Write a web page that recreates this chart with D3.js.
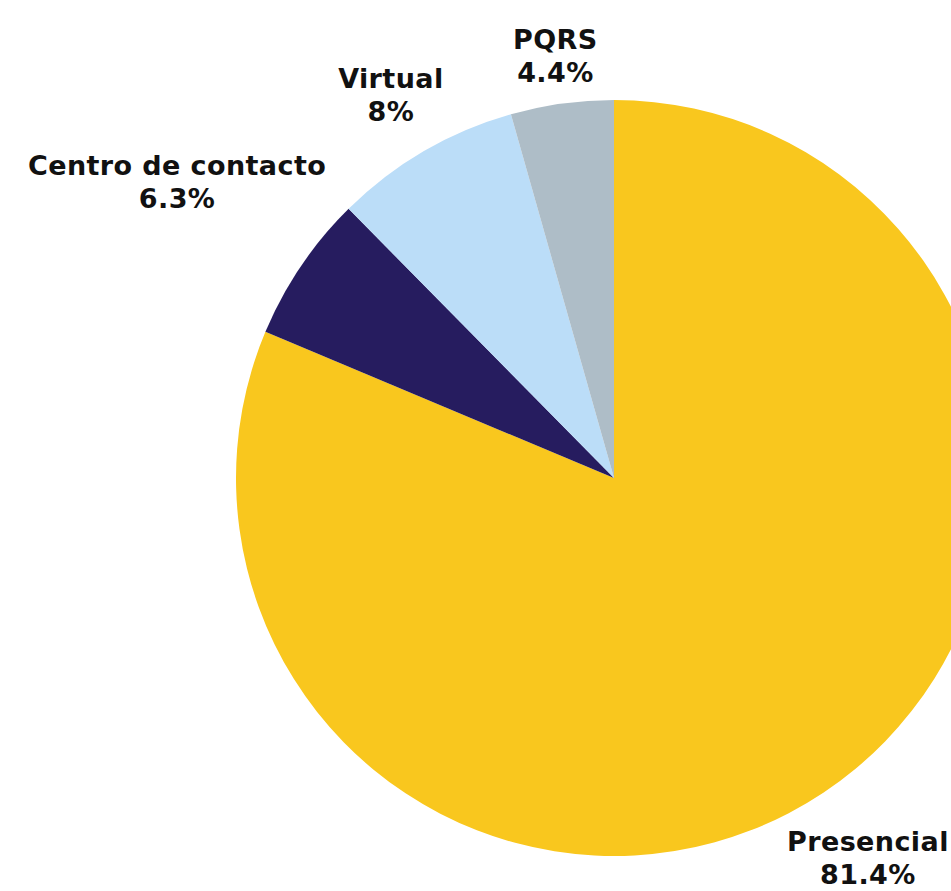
<!DOCTYPE html>
<html>
<head>
<meta charset="utf-8">
<script src="https://cdn.jsdelivr.net/npm/d3@7"></script>
<style>
  html, body { margin: 0; padding: 0; background: #fff; overflow: hidden; }
  svg { display: block; }
  .label { font-family: "DejaVu Sans", sans-serif; font-weight: bold; font-size: 27px; letter-spacing: 0.4px; fill: #111; }
</style>
</head>
<body>
<div id="chart"></div>
<script>
var categories = ["Presencial", "Centro de contacto", "Virtual", "PQRS"];
var values = [81.4, 6.3, 8, 4.4];
var colors = ["#F9C71E", "#261C5F", "#BBDDF8", "#AEBDC7"];

var widthSvg = 951,
    heightSvg = 891;

var cx = 614, cy = 478, radius = 378,
    labelGap = 12, lineHeight = 33;

var svg = d3.select("#chart").append("svg")
    .attr("width", widthSvg)
    .attr("height", heightSvg);

var data = categories.map(function (c, i) {
    return { name: c, value: values[i], color: colors[i] };
});

var pie = d3.pie()
    .sort(null)
    .value(function (d) { return d.value; });

var arc = d3.arc()
    .innerRadius(0)
    .outerRadius(radius);

var arcs = pie(data);

var g = svg.append("g")
    .attr("transform", "translate(" + cx + "," + cy + ")");

g.selectAll("path")
    .data(arcs)
    .enter().append("path")
    .attr("d", arc)
    .attr("fill", function (d) { return d.data.color; });

// labels: two lines, pushed out along the mid angle until the box clears the pie
var labels = g.selectAll("g.lab")
    .data(arcs)
    .enter().append("g")
    .attr("class", "lab");

var text = labels.append("text")
    .attr("class", "label")
    .attr("text-anchor", "middle");

text.append("tspan")
    .attr("x", 0)
    .attr("dy", 0)
    .text(function (d) { return d.data.name; });

text.append("tspan")
    .attr("x", 0)
    .attr("dy", lineHeight)
    .text(function (d) { return d.data.value + "%"; });

labels.each(function (d) {
    var bb = this.getBBox();
    var a = (d.startAngle + d.endAngle) / 2;
    var sx = Math.sin(a), sy = -Math.cos(a);
    var target = radius + labelGap;
    var dist = target, px, py;
    for (var k = 0; k < 2000; k++) {
        px = sx * dist;
        py = sy * dist;
        // nearest point of the box to the pie centre
        var x0 = px - bb.width / 2, x1 = px + bb.width / 2;
        var y0 = py - bb.height / 2, y1 = py + bb.height / 2;
        var nx = Math.max(x0, Math.min(0, x1));
        var ny = Math.max(y0, Math.min(0, y1));
        if (Math.sqrt(nx * nx + ny * ny) >= target) break;
        dist += 0.5;
    }
    var ox = px - (bb.x + bb.width / 2),
        oy = py - (bb.y + bb.height / 2);
    // keep the box inside the drawing
    var left = cx + ox + bb.x, right = left + bb.width,
        bottom = cy + oy + bb.y + bb.height;
    if (right > widthSvg - 2) ox -= right - (widthSvg - 2);
    if (left < 2) ox += 2 - left;
    if (bottom > heightSvg - 1) oy -= bottom - (heightSvg - 1);
    d3.select(this).attr("transform", "translate(" + ox + "," + oy + ")");
});
</script>
</body>
</html>
